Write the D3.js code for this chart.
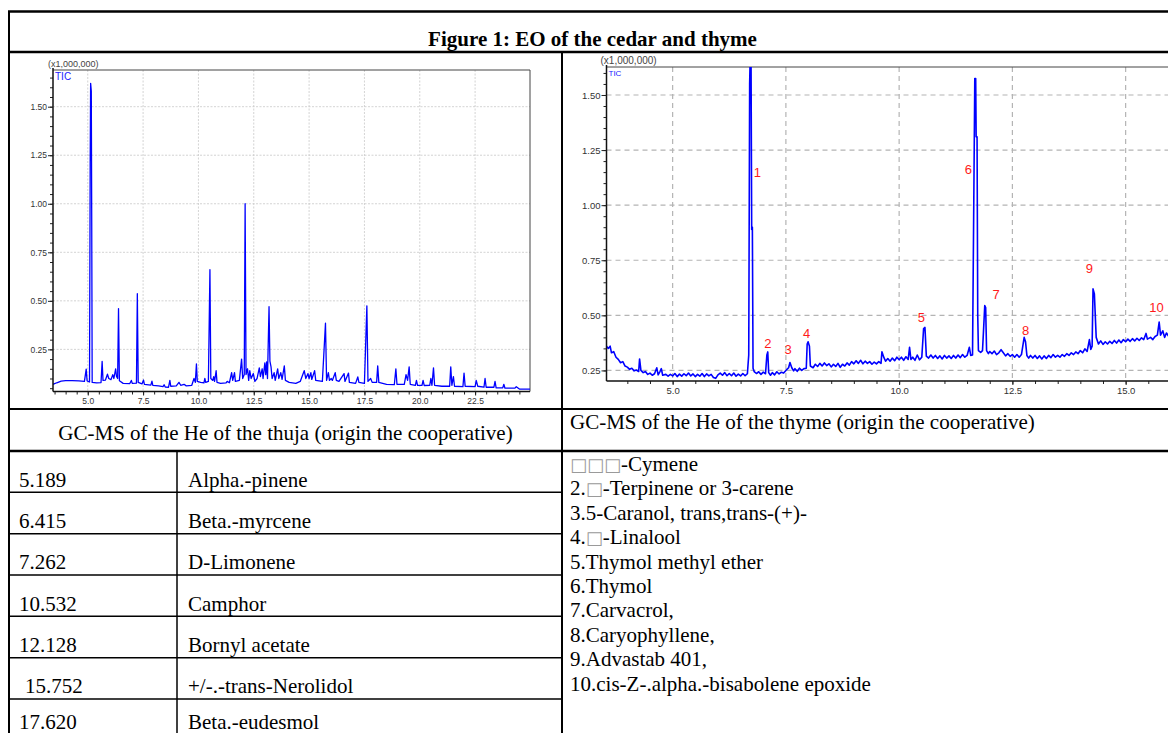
<!DOCTYPE html>
<html>
<head>
<meta charset="utf-8">
<script src="https://cdn.jsdelivr.net/npm/d3@7"></script>
<style>
  body { margin: 0; background: #fff; }
  svg { display: block; }
</style>
</head>
<body>
<div id="chart"></div>
<script>
// ---- data ----
const title = "Figure 1: EO of the cedar and thyme";
const thujaCaption = "GC-MS of the He of the thuja (origin the cooperative)";
const thymeCaption = "GC-MS of the He of the thyme (origin the cooperative)";

const thujaTimes = ["5.189", "6.415", "7.262", "10.532", "12.128", "15.752", "17.620"];
const thujaNames = ["Alpha.-pinene", "Beta.-myrcene", "D-Limonene", "Camphor", "Bornyl acetate", "+/-.-trans-Nerolidol", "Beta.-eudesmol"];

// [prefix, box glyph count, rest of text]
const thymeCompounds = [
  ["", 3, "-Cymene"],
  ["2.", 1, "-Terpinene or 3-carene"],
  ["3.5-Caranol, trans,trans-(+)-", 0, ""],
  ["4.", 1, "-Linalool"],
  ["5.Thymol methyl ether", 0, ""],
  ["6.Thymol", 0, ""],
  ["7.Carvacrol,", 0, ""],
  ["8.Caryophyllene,", 0, ""],
  ["9.Advastab 401,", 0, ""],
  ["10.cis-Z-.alpha.-bisabolene epoxide", 0, ""]
];

// thuja TIC trace, [retention time (min), intensity (x1,000,000)]
const thujaTrace = [
  [3.43,0.07],[3.6,0.078],[3.8,0.086],[4.0,0.089],[4.3,0.089],[4.6,0.088],[4.85,0.085],[4.93,0.148],[4.97,0.088],
  [5.08,0.082],[5.11,1.2],[5.13,1.62],[5.16,1.58],[5.18,0.9],[5.2,0.08],[5.4,0.077],[5.6,0.079],[5.65,0.188],[5.69,0.09],
  [5.8,0.092],[5.89,0.122],[5.95,0.1],[6.05,0.094],[6.13,0.12],[6.18,0.1],[6.26,0.15],[6.3,0.11],[6.35,0.1],[6.39,0.46],
  [6.43,0.088],[6.6,0.075],[6.9,0.074],[6.97,0.09],[7.01,0.075],[7.2,0.076],[7.24,0.537],[7.28,0.08],[7.45,0.072],
  [7.52,0.092],[7.56,0.07],[7.85,0.066],[7.9,0.086],[7.94,0.065],[8.2,0.062],[8.4,0.058],[8.45,0.068],[8.5,0.056],
  [8.65,0.055],[8.71,0.09],[8.75,0.06],[9.0,0.062],[9.12,0.08],[9.2,0.065],[9.35,0.07],[9.45,0.062],[9.7,0.065],
  [9.8,0.1],[9.86,0.08],[9.91,0.175],[9.95,0.085],[10.1,0.08],[10.25,0.078],[10.29,0.1],[10.33,0.08],[10.45,0.085],
  [10.52,0.66],[10.56,0.1],[10.65,0.09],[10.69,0.11],[10.73,0.085],[10.8,0.14],[10.84,0.08],[11.0,0.075],[11.25,0.077],
  [11.3,0.085],[11.4,0.078],[11.5,0.13],[11.55,0.09],[11.63,0.13],[11.67,0.085],[11.85,0.09],[11.95,0.2],[12.0,0.1],
  [12.07,0.12],[12.11,1.0],[12.15,0.12],[12.22,0.15],[12.27,0.09],[12.32,0.14],[12.38,0.1],[12.48,0.125],[12.55,0.085],
  [12.65,0.1],[12.75,0.155],[12.8,0.11],[12.88,0.15],[12.92,0.1],[13.0,0.18],[13.04,0.12],[13.08,0.185],[13.12,0.1],
  [13.19,0.47],[13.23,0.19],[13.28,0.16],[13.33,0.1],[13.42,0.13],[13.47,0.09],[13.58,0.15],[13.63,0.1],[13.72,0.13],
  [13.78,0.095],[13.88,0.165],[13.93,0.09],[14.1,0.08],[14.4,0.075],[14.6,0.085],[14.7,0.115],[14.78,0.14],[14.85,0.1],
  [14.95,0.125],[15.0,0.1],[15.08,0.13],[15.12,0.095],[15.25,0.14],[15.3,0.09],[15.6,0.085],[15.74,0.385],[15.79,0.09],
  [15.87,0.13],[15.92,0.09],[16.0,0.1],[16.05,0.09],[16.18,0.13],[16.23,0.09],[16.35,0.085],[16.58,0.125],[16.62,0.085],
  [16.78,0.128],[16.82,0.08],[17.1,0.075],[17.2,0.108],[17.25,0.08],[17.5,0.075],[17.61,0.474],[17.66,0.085],[17.78,0.1],
  [17.85,0.08],[18.05,0.08],[18.1,0.165],[18.15,0.08],[18.5,0.07],[18.85,0.068],[18.92,0.15],[18.97,0.07],[19.3,0.07],
  [19.38,0.12],[19.45,0.09],[19.52,0.16],[19.57,0.07],[19.8,0.065],[19.85,0.09],[19.9,0.065],[20.1,0.065],[20.15,0.09],
  [20.2,0.064],[20.45,0.065],[20.5,0.1],[20.55,0.065],[20.62,0.155],[20.67,0.065],[21.0,0.06],[21.35,0.06],[21.4,0.16],
  [21.45,0.065],[21.52,0.11],[21.57,0.06],[21.95,0.058],[22.0,0.128],[22.05,0.06],[22.5,0.058],[22.55,0.09],[22.62,0.06],
  [22.9,0.055],[22.95,0.1],[23.0,0.055],[23.35,0.055],[23.4,0.085],[23.45,0.052],[23.75,0.052],[23.8,0.07],[23.85,0.05],
  [24.3,0.05],[24.36,0.058],[24.5,0.046],[24.8,0.045],[24.98,0.045]
];

// thyme TIC trace
const thymeTrace = [
  [3.54,0.36],[3.58,0.35],[3.62,0.36],[3.65,0.33],[3.7,0.335],[3.75,0.31],[3.8,0.3],[3.85,0.285],[3.9,0.29],[3.95,0.27],
  [4.0,0.265],[4.05,0.255],[4.1,0.26],[4.15,0.248],[4.2,0.252],[4.25,0.245],[4.27,0.302],[4.3,0.25],[4.35,0.24],[4.4,0.245],
  [4.45,0.232],[4.5,0.238],[4.55,0.228],[4.6,0.235],[4.65,0.262],[4.68,0.23],[4.72,0.245],[4.75,0.258],[4.78,0.228],
  [4.85,0.232],[4.9,0.224],[4.95,0.232],[5.0,0.225],[5.05,0.236],[5.1,0.222],[5.15,0.233],[5.2,0.224],[5.25,0.235],
  [5.3,0.226],[5.35,0.238],[5.4,0.225],[5.45,0.234],[5.5,0.222],[5.55,0.232],[5.6,0.224],[5.65,0.236],[5.7,0.222],
  [5.75,0.234],[5.8,0.225],[5.85,0.232],[5.9,0.218],[5.95,0.214],[6.0,0.23],[6.05,0.238],[6.1,0.228],[6.15,0.24],
  [6.2,0.226],[6.25,0.236],[6.3,0.226],[6.35,0.238],[6.4,0.224],[6.45,0.233],[6.5,0.225],[6.55,0.236],[6.6,0.226],
  [6.65,0.235],[6.68,0.32],[6.7,1.55],[6.715,1.7],[6.73,1.7],[6.745,0.89],[6.76,0.9],[6.775,0.26],[6.8,0.245],
  [6.85,0.236],[6.9,0.244],[6.95,0.232],[7.0,0.242],[7.05,0.235],[7.08,0.32],[7.1,0.334],[7.12,0.24],[7.16,0.228],
  [7.2,0.24],[7.25,0.23],[7.3,0.244],[7.35,0.234],[7.4,0.242],[7.45,0.238],[7.5,0.25],[7.56,0.262],[7.59,0.286],
  [7.63,0.262],[7.67,0.248],[7.7,0.258],[7.75,0.246],[7.8,0.26],[7.85,0.25],[7.9,0.258],[7.95,0.26],[7.97,0.37],
  [7.99,0.38],[8.02,0.36],[8.04,0.27],[8.1,0.262],[8.15,0.278],[8.2,0.268],[8.25,0.282],[8.3,0.27],[8.35,0.284],
  [8.4,0.272],[8.45,0.28],[8.5,0.266],[8.55,0.278],[8.6,0.268],[8.65,0.282],[8.7,0.264],[8.75,0.278],[8.8,0.27],
  [8.85,0.284],[8.9,0.274],[8.95,0.29],[9.0,0.28],[9.05,0.294],[9.1,0.282],[9.15,0.296],[9.2,0.28],[9.25,0.292],
  [9.3,0.282],[9.35,0.29],[9.4,0.278],[9.45,0.288],[9.5,0.28],[9.55,0.29],[9.6,0.282],[9.62,0.335],[9.66,0.31],
  [9.7,0.292],[9.75,0.304],[9.8,0.292],[9.85,0.306],[9.9,0.294],[9.95,0.31],[10.0,0.298],[10.05,0.31],[10.1,0.296],
  [10.15,0.312],[10.2,0.3],[10.23,0.355],[10.26,0.3],[10.3,0.31],[10.35,0.296],[10.4,0.32],[10.45,0.298],[10.5,0.31],
  [10.54,0.44],[10.57,0.445],[10.6,0.315],[10.65,0.306],[10.7,0.32],[10.75,0.306],[10.8,0.318],[10.85,0.304],
  [10.9,0.316],[10.95,0.302],[11.0,0.318],[11.05,0.306],[11.1,0.316],[11.15,0.304],[11.2,0.318],[11.25,0.306],
  [11.3,0.32],[11.35,0.308],[11.4,0.322],[11.45,0.31],[11.5,0.318],[11.55,0.355],[11.58,0.318],[11.62,0.32],
  [11.64,0.82],[11.67,1.575],[11.69,1.575],[11.7,1.31],[11.72,1.31],[11.735,0.5],[11.75,0.34],[11.8,0.332],
  [11.84,0.34],[11.86,0.42],[11.89,0.544],[11.91,0.535],[11.93,0.34],[11.97,0.326],[12.0,0.336],[12.05,0.326],
  [12.1,0.338],[12.15,0.322],[12.2,0.33],[12.25,0.344],[12.3,0.33],[12.35,0.316],[12.4,0.326],[12.45,0.314],
  [12.5,0.322],[12.55,0.31],[12.6,0.322],[12.65,0.31],[12.7,0.322],[12.76,0.4],[12.79,0.38],[12.82,0.318],
  [12.86,0.306],[12.9,0.318],[12.95,0.306],[13.0,0.318],[13.05,0.304],[13.1,0.316],[13.15,0.302],[13.2,0.316],
  [13.25,0.304],[13.3,0.318],[13.35,0.308],[13.4,0.322],[13.45,0.31],[13.5,0.318],[13.55,0.31],[13.6,0.322],
  [13.65,0.314],[13.7,0.326],[13.75,0.318],[13.8,0.33],[13.85,0.322],[13.9,0.334],[13.95,0.326],[14.0,0.34],
  [14.05,0.33],[14.1,0.348],[14.15,0.336],[14.2,0.39],[14.23,0.345],[14.26,0.36],[14.28,0.62],[14.31,0.597],
  [14.33,0.498],[14.35,0.4],[14.4,0.37],[14.45,0.384],[14.5,0.368],[14.55,0.38],[14.6,0.37],[14.65,0.382],
  [14.7,0.372],[14.75,0.386],[14.8,0.374],[14.85,0.388],[14.9,0.376],[14.95,0.39],[15.0,0.38],[15.05,0.392],
  [15.1,0.382],[15.15,0.394],[15.2,0.384],[15.25,0.396],[15.3,0.386],[15.35,0.398],[15.4,0.39],[15.45,0.418],
  [15.48,0.392],[15.55,0.4],[15.6,0.39],[15.65,0.404],[15.7,0.41],[15.74,0.469],[15.77,0.41],[15.82,0.43],
  [15.86,0.4],[15.9,0.42],[15.95,0.405],[16.0,0.42],[16.1,0.41],[16.2,0.425]
];

// red peak numbers: [label, time, intensity]
const thymeLabels = [
  ["1", 6.87, 1.15], ["2", 7.10, 0.374], ["3", 7.55, 0.346], ["4", 7.96, 0.418], ["5", 10.49, 0.49],
  ["6", 11.53, 1.16], ["7", 12.14, 0.593], ["8", 12.79, 0.433], ["9", 14.2, 0.715], ["10", 15.68, 0.537]
];

const thujaXTicks = [5, 7.5, 10, 12.5, 15, 17.5, 20, 22.5];
const thymeXTicks = [5, 7.5, 10, 12.5, 15];
const yTicks = [0.25, 0.5, 0.75, 1.0, 1.25, 1.5];

// ---- page ----
const W = 1168, H = 733;
const serif = "'Times New Roman', 'Liberation Serif', serif";
const sans = "Arial, 'Liberation Sans', sans-serif";

const svg = d3.select("#chart").append("svg")
  .attr("width", W).attr("height", H);

// table grid
const colSplit = 562, left = 9, right = 1176;
const rowY = d3.scaleLinear().domain([0, 6]).range([451, 699]);

const lines = [
  [8, 11.5, right, 11.5, 2.5],
  [left, 11, left, H + 2, 2],
  [8, 52, right, 52, 2.5],
  [colSplit, 52, colSplit, H + 2, 2],
  [8, 409, right, 409, 2],
  [8, 451, right, 451, 2.5],
  [177, 451, 177, H + 2, 1.5]
];
d3.range(1, 7).forEach(i => lines.push([8, rowY(i), colSplit, rowY(i), 1.5]));

svg.selectAll("line.grid-tbl")
  .data(lines)
  .join("line")
  .attr("class", "grid-tbl")
  .attr("x1", d => d[0]).attr("y1", d => d[1])
  .attr("x2", d => d[2]).attr("y2", d => d[3])
  .attr("stroke", "#000")
  .attr("stroke-width", d => d[4]);

svg.append("text")
  .text(title)
  .attr("x", (left + right) / 2)
  .attr("y", 45.5)
  .attr("text-anchor", "middle")
  .attr("font-family", serif)
  .attr("font-weight", "bold")
  .attr("font-size", 21);

svg.append("text")
  .text(thujaCaption)
  .attr("x", (left + colSplit) / 2)
  .attr("y", 440)
  .attr("text-anchor", "middle")
  .attr("font-family", serif)
  .attr("font-size", 21);

svg.append("text")
  .text(thymeCaption)
  .attr("x", 570)
  .attr("y", 428.5)
  .attr("font-family", serif)
  .attr("font-size", 21);

// thuja table rows
thujaTimes.forEach((t, i) => {
  const base = Math.min(rowY(i) + 35.5, 729);
  svg.append("text").text(t)
    .attr("x", i === 5 ? 25 : 19).attr("y", base)
    .attr("font-family", serif).attr("font-size", 21);
  svg.append("text").text(thujaNames[i])
    .attr("x", 188).attr("y", base)
    .attr("font-family", serif).attr("font-size", 21);
});

// thyme compound list
thymeCompounds.forEach((c, i) => {
  const t = svg.append("text")
    .attr("x", 570).attr("y", 471 + i * 24.4)
    .attr("font-family", serif).attr("font-size", 21);
  if (c[0]) t.append("tspan").text(c[0]);
  if (c[1]) t.append("tspan").text("\u25A1".repeat(c[1]))
    .attr("font-family", "'DejaVu Sans'").attr("font-size", 18).attr("fill", "#9a9a9a");
  if (c[2]) t.append("tspan").text(c[2]);
});

// ---- chromatograms ----
function chromatogram(opt) {
  const x = d3.scaleLinear().domain(opt.xDomain).range([opt.x0, opt.x1]);
  const y = d3.scaleLinear().domain(opt.yDomain).range([opt.y1, opt.y0]);
  const g = svg.append("g");

  const clipId = "clip" + opt.id;
  svg.append("clipPath").attr("id", clipId)
    .append("rect")
    .attr("x", opt.x0).attr("y", opt.y0)
    .attr("width", opt.x1 - opt.x0).attr("height", opt.y1 - opt.y0);

  // grid
  g.selectAll("line.vg").data(opt.xTicks).join("line")
    .attr("x1", d => x(d)).attr("x2", d => x(d))
    .attr("y1", opt.y0).attr("y2", opt.y1)
    .attr("stroke", opt.gridColor).attr("stroke-width", opt.gridWidth)
    .attr("stroke-dasharray", opt.gridDash);
  g.selectAll("line.hg").data(yTicks).join("line")
    .attr("x1", opt.x0).attr("x2", opt.x1)
    .attr("y1", d => y(d)).attr("y2", d => y(d))
    .attr("stroke", opt.gridColor).attr("stroke-width", opt.gridWidth)
    .attr("stroke-dasharray", opt.gridDash);

  // frame top / right
  g.append("path")
    .attr("d", `M${opt.x0},${opt.y0}H${opt.x1}V${opt.y1}`)
    .attr("fill", "none").attr("stroke", "#444").attr("stroke-width", 1);

  // trace
  const line = d3.line().x(d => x(d[0])).y(d => y(d[1]));
  g.append("path")
    .datum(opt.trace)
    .attr("clip-path", `url(#${clipId})`)
    .attr("d", line)
    .attr("fill", "none")
    .attr("stroke", "#0000ff")
    .attr("stroke-width", opt.lineWidth)
    .attr("stroke-linejoin", "round");

  // minor ticks
  const yMinor = d3.range(0.05, opt.yDomain[1], 0.05).filter(v => v > opt.yDomain[0]);
  g.append("g").attr("transform", `translate(${opt.x0},0)`)
    .call(d3.axisLeft(y).tickValues(yMinor).tickSize(3).tickFormat(""))
    .call(a => a.select(".domain").remove())
    .call(a => a.selectAll("line").attr("stroke", "#222"));
  const xMinor = d3.range(3.5, opt.xDomain[1], 0.5).filter(v => v > opt.xDomain[0]);
  g.append("g").attr("transform", `translate(0,${opt.y1})`)
    .call(d3.axisBottom(x).tickValues(xMinor).tickSize(3).tickFormat(""))
    .call(a => a.select(".domain").remove())
    .call(a => a.selectAll("line").attr("stroke", "#222"));

  // major axes
  const ya = g.append("g").attr("transform", `translate(${opt.x0},0)`)
    .call(d3.axisLeft(y).tickValues(yTicks).tickSize(5).tickPadding(1).tickFormat(d3.format(".2f")));
  const xa = g.append("g").attr("transform", `translate(0,${opt.y1})`)
    .call(d3.axisBottom(x).tickValues(opt.xTicks).tickSize(4).tickPadding(2).tickFormat(d3.format(".1f")));
  [ya, xa].forEach(a => {
    a.attr("font-family", sans).attr("font-size", opt.tickFont);
    a.selectAll("text").attr("fill", "#333");
    a.selectAll("line").attr("stroke", "#222");
    a.select(".domain").attr("stroke", "#111").attr("stroke-width", 1.5);
  });
  ya.select(".domain").attr("d", `M0,${opt.y0 - 2}V${opt.y1}`);
  xa.select(".domain").attr("d", `M${opt.x0},0H${opt.x1}`);

  g.append("text").text("(x1,000,000)")
    .attr("x", opt.x0 + opt.unitDx).attr("y", opt.y0 - 3)
    .attr("font-family", sans).attr("font-size", opt.unitFont).attr("fill", "#444");
  g.append("text").text("TIC")
    .attr("x", opt.x0 + 2).attr("y", opt.y0 + opt.ticDy)
    .attr("font-family", sans).attr("font-size", opt.ticFont).attr("fill", "#2020ff");

  return { g, x, y };
}

chromatogram({
  id: "thuja", trace: thujaTrace,
  x0: 53, x1: 530, y0: 70, y1: 391.5,
  xDomain: [3.43, 24.98], yDomain: [0.033, 1.689],
  xTicks: thujaXTicks,
  gridColor: "#c8c8c8", gridWidth: 0.8, gridDash: "2,1.5",
  lineWidth: 1.3, tickFont: 8.5, unitFont: 9, unitDx: -5, ticFont: 10, ticDy: 10
});

const thyme = chromatogram({
  id: "thyme", trace: thymeTrace,
  x0: 606.5, x1: 1180, y0: 67, y1: 381,
  xDomain: [3.54, 16.2], yDomain: [0.202, 1.627],
  xTicks: thymeXTicks,
  gridColor: "#b4b4b4", gridWidth: 1.2, gridDash: "5,4",
  lineWidth: 1.6, tickFont: 9.5, unitFont: 10, unitDx: -6, ticFont: 8, ticDy: 9
});

thyme.g.selectAll("text.peak")
  .data(thymeLabels)
  .join("text")
  .attr("class", "peak")
  .text(d => d[0])
  .attr("x", d => thyme.x(d[1]))
  .attr("y", d => thyme.y(d[2]))
  .attr("dy", "0.35em")
  .attr("text-anchor", "middle")
  .attr("font-family", sans)
  .attr("font-size", 13)
  .attr("fill", "#ff1a1a");
</script>
</body>
</html>
